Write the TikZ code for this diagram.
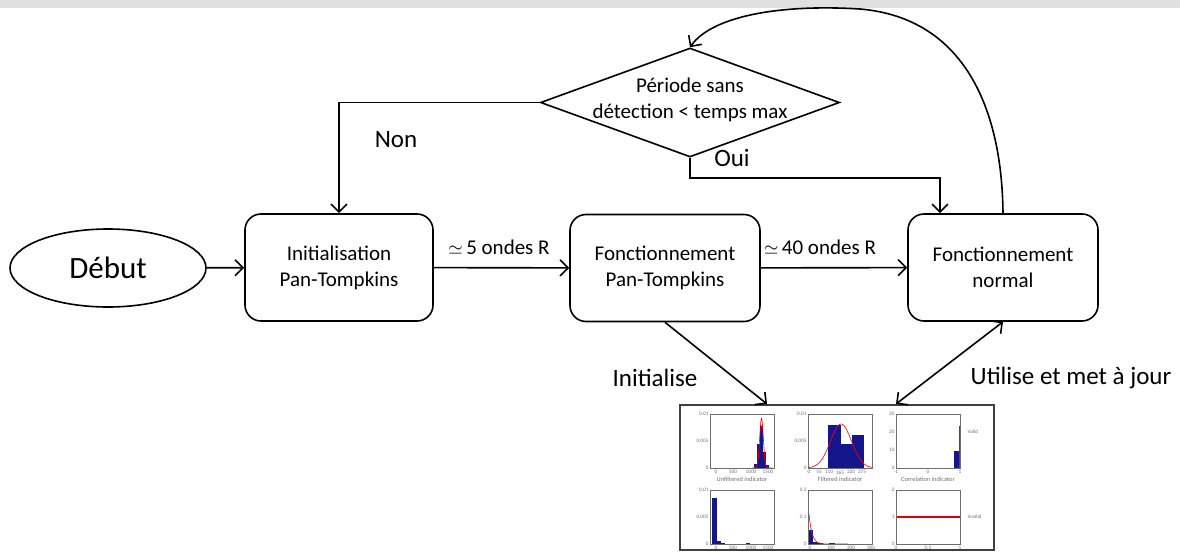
\documentclass[tikz,border=0pt]{standalone}
\usepackage{fontspec}
\setmainfont{Carlito}
\usetikzlibrary{shapes.geometric,arrows.meta,calc}
\definecolor{barblue}{RGB}{22,22,140}
\definecolor{axgray}{RGB}{110,110,110}
\definecolor{topgray}{RGB}{224,224,224}
\begin{document}
\begin{tikzpicture}[x=0.5pt,y=-0.5pt,line width=0.8pt,
  arr/.style={-{Straight Barb[length=4pt,width=8pt]}},
  darr/.style={{Straight Barb[length=4pt,width=8pt]}-{Straight Barb[length=4pt,width=8pt]}},
  box/.style={draw, rounded corners=8pt, minimum width=95pt, minimum height=53.5pt, align=center, inner sep=0pt, font=\fontsize{10.5}{13}\selectfont},
  lbl/.style={font=\fontsize{12.5}{15}\selectfont, inner sep=0pt},
  elbl/.style={font=\fontsize{10.5}{13}\selectfont, inner sep=0pt},
  tk/.style={font=\fontsize{2.6}{3}\selectfont, text=axgray, inner sep=0.4pt},
  xl/.style={font=\fontsize{3.2}{4}\selectfont, text=axgray, inner sep=0pt},
  axf/.style={draw=axgray, line width=0.35pt},
  cur/.style={red, line width=0.3pt}
]
\useasboundingbox (0,0) rectangle (1180,552);
\fill[topgray] (0,0) rectangle (1180,8);

% main nodes
\node[draw, ellipse, minimum width=98pt, minimum height=39pt, inner sep=0pt, font=\fontsize{15.5}{18}\selectfont] (deb) at (108,268) {Début};
\node[box, minimum width=94pt] (init) at (339,267.5) {Initialisation\\Pan-Tompkins};
\node[box] (fpt) at (665,268) {Fonctionnement\\Pan-Tompkins};
\node[box] (fn) at (1003,267.5) {Fonctionnement\\normal};
\node[draw, diamond, minimum width=149.5pt, minimum height=54.5pt, inner sep=0pt] (d) at (690,102.5) {};
\node[align=center, font=\fontsize{10.5}{13}\selectfont, inner sep=0pt] (dtxt) at (690,100) {Période sans\\détection < temps max};
\node[draw=black!75, line width=1pt, minimum width=157pt, minimum height=72.5pt, inner sep=0pt] (img) at (837,477.5) {};

% helper coordinates
\coordinate (oy) at (0,178);
\coordinate (ox) at (940,0);
\coordinate (ix) at (767,0);
\coordinate (ux) at (896,0);

% connectors
\draw[arr] (deb) -- (init);
\draw[arr] (init) -- (fpt);
\draw[arr] (fpt) -- (fn);
\draw[arr] (d.west) -| (init.north);
\draw[arr] (d.south) -- (d.south |- oy) -| (fn.north -| ox);
\draw[arr] (fn.north) .. controls (1002,110) and (965,18) .. (860,9) .. controls (780,4) and (712,16) .. (d.north);
\draw[arr] (fpt.south) -- (img.north -| ix);
\draw[darr] (img.north -| ux) -- (fn.south);

% labels
\node[elbl] (l5) at (499,247) {{\fontsize{9}{10}\selectfont$\simeq$}\,5 ondes R};
\node[elbl] (l40) at (820,247) {{\fontsize{9}{10}\selectfont$\simeq$}\,40 ondes R};
\node[lbl] (lnon) at (396,140) {Non};
\node[lbl] (loui) at (732,158) {Oui};
\node[lbl] (linit) at (655,378) {Initialise};
\node[lbl] (lutil) at (1071,378) {Utilise et met à jour};

% ---- mini plots ----
% P1
\begin{scope}[shift={(710,414)}]
  \fill[barblue] (44,54) rectangle (47,50);
  \fill[barblue] (47,54) rectangle (50,30);
  \fill[barblue] (50,54) rectangle (53,12);
  \fill[barblue] (53,54) rectangle (56,38);
  \fill[barblue] (56,54) rectangle (59,51);
  \draw[cur, domain=42:62, samples=40] plot (\x, {54-50*exp(-((\x-51.5)/2.6)^2)});
  \draw[axf] (0,0) rectangle (64,54);
  \node[tk, anchor=east] at (0,0) {0.01};
  \node[tk, anchor=east] at (0,27) {0.005};
  \node[tk, anchor=east] at (0,54) {0};
  \node[tk, anchor=north] at (6,55) {0};
  \node[tk, anchor=north] at (23,55) {500};
  \node[tk, anchor=north] at (41,55) {1000};
  \node[tk, anchor=north] at (58,55) {1500};
  \node[xl] at (32,65) {Unfiltered indicator};
\end{scope}
% P2
\begin{scope}[shift={(808,414)}]
  \fill[barblue] (20,54) rectangle (33,11);
  \fill[barblue] (33,54) rectangle (44,30);
  \fill[barblue] (44,54) rectangle (56,21);
  \draw[cur, domain=0:64, samples=50] plot (\x, {54-44*exp(-((\x-33)/15)^2)});
  \draw[axf] (0,0) rectangle (64,54);
  \node[tk, anchor=east] at (0,0) {0.01};
  \node[tk, anchor=east] at (0,27) {0.005};
  \node[tk, anchor=east] at (0,54) {0};
  \node[tk, anchor=north] at (1,55) {0};
  \node[tk, anchor=north] at (11,55) {55};
  \node[tk, anchor=north] at (21,55) {110};
  \node[tk, anchor=north] at (32,55) {165};
  \node[tk, anchor=north] at (43,55) {220};
  \node[tk, anchor=north] at (54,55) {275};
  \node[xl] at (32,65) {Filtered indicator};
\end{scope}
% P3
\begin{scope}[shift={(896,414)}]
  \fill[barblue] (58,54) rectangle (64,37);
  \draw[cur] (63.2,54) -- (63.2,12);
  \draw[axf] (0,0) rectangle (64,54);
  \node[tk, anchor=east] at (0,0) {30};
  \node[tk, anchor=east] at (0,18) {20};
  \node[tk, anchor=east] at (0,36) {10};
  \node[tk, anchor=east] at (0,54) {0};
  \node[tk, anchor=north] at (0,55) {-1};
  \node[tk, anchor=north] at (32,55) {0};
  \node[tk, anchor=north] at (64,55) {1};
  \node[xl] at (32,65) {Correlation indicator};
  \node[tk, anchor=west] at (70,18) {Valid};
\end{scope}
% P4
\begin{scope}[shift={(710,490)}]
  \fill[barblue] (2,54) rectangle (7,8);
  \fill[barblue] (7,54) rectangle (11,51);
  \fill[barblue] (11,54) rectangle (15,53);
  \fill[barblue] (36,54) rectangle (40,53);
  \draw[axf] (0,0) rectangle (64,54);
  \node[tk, anchor=east] at (0,0) {0.01};
  \node[tk, anchor=east] at (0,27) {0.005};
  \node[tk, anchor=east] at (0,54) {0};
  \node[tk, anchor=north] at (6,55) {0};
  \node[tk, anchor=north] at (23,55) {500};
  \node[tk, anchor=north] at (41,55) {1000};
  \node[tk, anchor=north] at (58,55) {1500};
\end{scope}
% P5
\begin{scope}[shift={(808,490)}]
  \fill[barblue] (1,54) rectangle (5,40);
  \fill[barblue] (5,54) rectangle (9,52);
  \fill[barblue] (9,54) rectangle (15,53);
  \fill[barblue] (21,54) rectangle (27,53);
  \draw[cur, domain=1:40, samples=40] plot (\x, {54-30*exp(-(\x-1)/3)});
  \draw[axf] (0,0) rectangle (64,54);
  \node[tk, anchor=east] at (0,0) {0.2};
  \node[tk, anchor=east] at (0,27) {0.1};
  \node[tk, anchor=east] at (0,54) {0};
  \node[tk, anchor=north] at (2,55) {0};
  \node[tk, anchor=north] at (23,55) {100};
  \node[tk, anchor=north] at (43,55) {200};
  \node[tk, anchor=north] at (63,55) {300};
\end{scope}
% P6
\begin{scope}[shift={(896,490)}]
  \draw[red!85!black, line width=1pt] (0,27) -- (64,27);
  \draw[axf] (0,0) rectangle (64,54);
  \node[tk, anchor=east] at (0,0) {2};
  \node[tk, anchor=east] at (0,27) {1};
  \node[tk, anchor=east] at (0,54) {0};
  \node[tk, anchor=north] at (0,55) {0};
  \node[tk, anchor=north] at (32,55) {0.5};
  \node[tk, anchor=north] at (64,55) {1};
  \node[tk, anchor=west] at (70,27) {Invalid};
\end{scope}
\end{tikzpicture}
\end{document}
